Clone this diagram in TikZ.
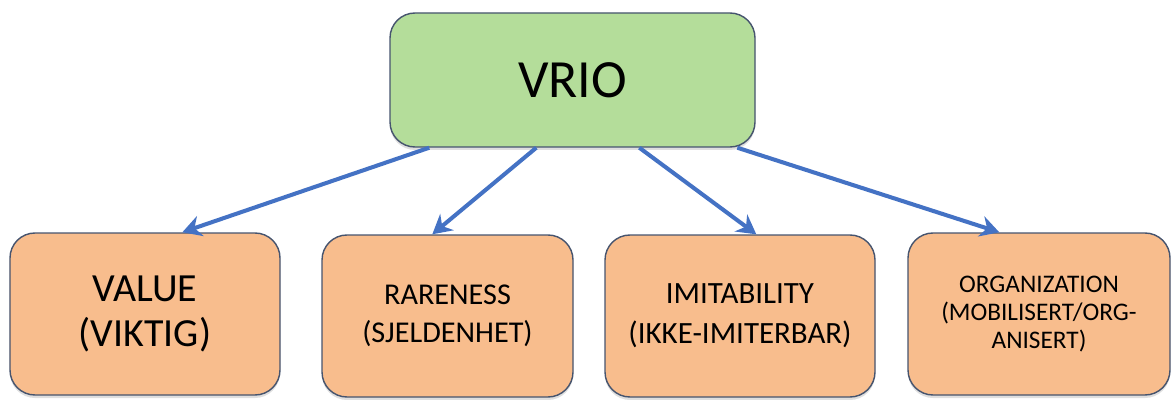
\documentclass[tikz,border=0pt]{standalone}
\usepackage{fontspec}
\setmainfont{Carlito}
\usetikzlibrary{arrows.meta,shadows}
\definecolor{topfill}{HTML}{B4DD9A}
\definecolor{leaffill}{HTML}{F8BD8D}
\definecolor{boxedge}{HTML}{46546E}
\definecolor{arrowblue}{HTML}{4472C4}
\tikzset{
 box/.style={draw=boxedge, line width=0.8pt, rounded corners=0.5cm, align=center,
  inner sep=0pt, drop shadow={opacity=0.25, shadow xshift=0pt, shadow yshift=-0.06cm}},
 topbox/.style={box, fill=topfill, minimum width=7.3cm, minimum height=2.68cm},
 leafbox/.style={box, fill=leaffill, minimum height=3.24cm},
 link/.style={draw=arrowblue, line width=2.3pt, -{Stealth[length=0.38cm, width=0.42cm]}}
}
\begin{document}
\begin{tikzpicture}
 \useasboundingbox (0,0) rectangle (23.42,-8);
 \node[topbox, font=\fontsize{30.6}{37}\selectfont] (vrio) at (11.45,-1.6) {VRIO};
 \node[leafbox, minimum width=5.4cm, font=\fontsize{22.7}{25.5}\selectfont]
  (value) at (2.9,-6.28) {VALUE\\(VIKTIG)};
 \node[leafbox, minimum width=5.02cm, font=\fontsize{17.2}{21.5}\selectfont]
  (rareness) at (8.95,-6.32) {RARENESS\\(SJELDENHET)};
 \node[leafbox, minimum width=5.4cm, font=\fontsize{17.6}{22.7}\selectfont]
  (imitability) at (14.8,-6.32) {IMITABILITY\\(IKKE-IMITERBAR)};
 \node[leafbox, minimum width=5.24cm, font=\fontsize{14.4}{16}\selectfont]
  (organization) at (20.78,-6.28) {ORGANIZATION\\(MOBILISERT/ORG-\\ANISERT)};
 \draw[link] ([xshift=0.8cm]vrio.south west) -- ([xshift=3.46cm]value.north west);
 \draw[link] ([xshift=2.94cm]vrio.south west) -- ([xshift=2.22cm]rareness.north west);
 \draw[link] ([xshift=5.0cm]vrio.south west) -- ([xshift=3.04cm]imitability.north west);
 \draw[link] ([xshift=6.96cm]vrio.south west) -- ([xshift=1.84cm]organization.north west);
\end{tikzpicture}
\end{document}
